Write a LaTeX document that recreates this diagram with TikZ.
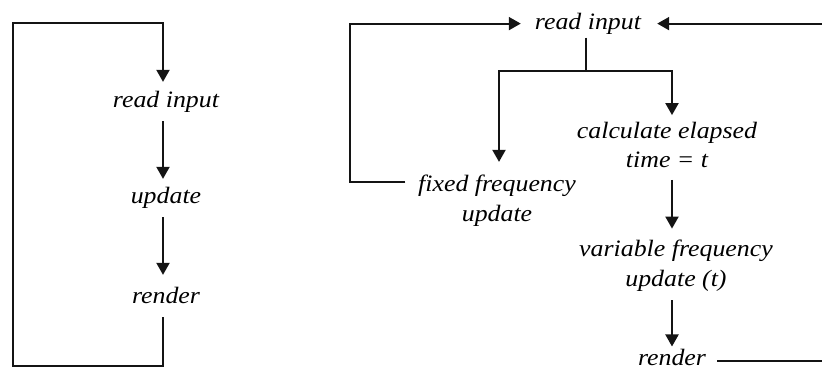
\documentclass[tikz,border=0pt]{standalone}
\usepackage{fontspec}
\newfontfamily\lblfont{Liberation Serif}[FakeStretch=1.1]
\usetikzlibrary{arrows.meta}
\tikzset{
  txt/.style={inner sep=0pt, align=center, text=black, font=\lblfont\itshape\fontsize{23.5}{29.5}\selectfont},
  ln/.style={line width=2pt, draw=black!92},
  arr/.style={ln, -{Triangle[width=13pt,length=12pt]}}
}
\begin{document}
\begin{tikzpicture}[x=1pt,y=-1pt]
\useasboundingbox (0,0) rectangle (822,369);
% ---- left loop ----
\node[txt] (riL)   at (166,101.1) {\strut read input};
\node[txt] (updL)  at (166,197.1) {\strut update};
\node[txt] (rendL) at (166,297.1) {\strut render};
\coordinate (cL) at (163,0);
\coordinate (lb) at (13,366);
\coordinate (lt) at (13,23);
\draw[arr, shorten <=5pt, shorten >=4.3pt] (rendL.south -| cL) |- (lb) |- (lt -| cL) -- (riL.north -| cL);
\draw[arr, shorten <=5pt, shorten >=3.3pt] (riL.south -| cL) -- (updL.north -| cL);
\draw[arr, shorten <=5pt, shorten >=7.3pt] (updL.south -| cL) -- (rendL.north -| cL);
% ---- right loop ----
\node[txt] (ri)    at (588,23.6)  {\strut read input};
\node[txt] (ff)    at (497,200.6) {\strut fixed frequency\\\strut update};
\node[txt] (calc)  at (667,147.1) {\strut calculate elapsed\\\strut time = t};
\node[txt] (var)   at (676,265.6) {\strut variable frequency\\\strut update (t)};
\node[txt, anchor=base] (rendR) at (672,365) {render};
\coordinate (j)   at (586,71);
\coordinate (cff) at (499,0);
\coordinate (cR)  at (672,0);
\coordinate (re)  at (825,0);
\coordinate (rb)  at (0,361);
\draw[ln, shorten <=-1pt] (ri.south -| j) -- (j);
\draw[arr, shorten >=9pt] (j) -| (ff.north -| cff);
\draw[arr, shorten >=2.3pt] (j) -| (calc.north -| cR);
\draw[arr, shorten <=3pt, shorten >=7.3pt] (calc.south -| cR) -- (var.north -| cR);
\draw[arr, shorten <=5pt, shorten >=2pt] (var.south -| cR) -- (rendR.north -| cR);
\draw[arr, shorten <=12.5pt, shorten >=14pt] ([yshift=18.6pt]ff.west) -- ++(-67.5,0) |- (ri.west);
\draw[arr, shorten <=11pt, shorten >=16pt] (rendR.east |- rb) -- (rb -| re) -- (ri.east -| re) -- (ri.east);
\end{tikzpicture}
\end{document}
